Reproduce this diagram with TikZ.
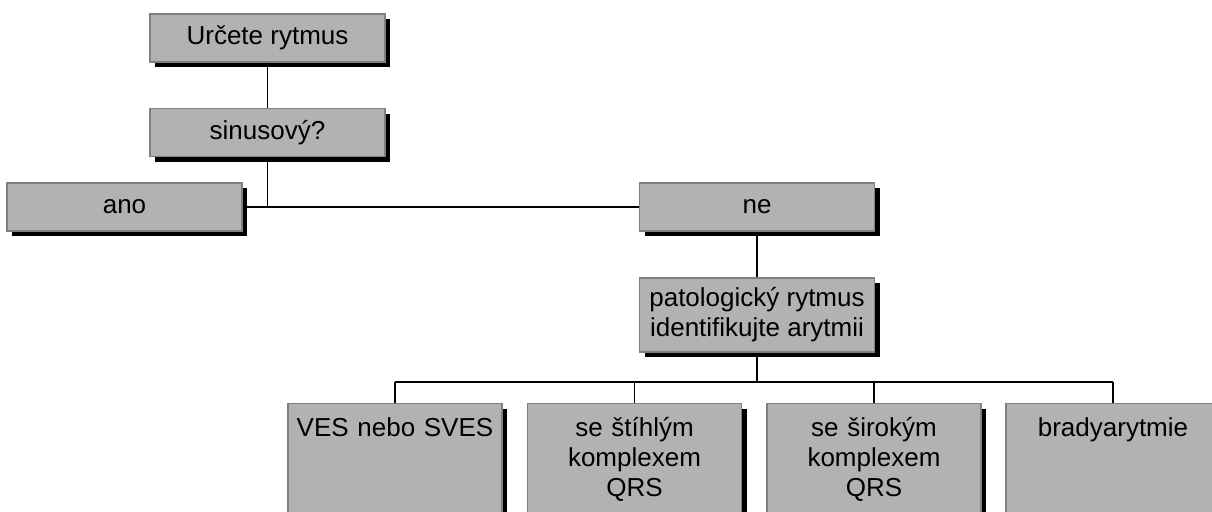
\documentclass[tikz,border=0pt]{standalone}
\usepackage{fontspec}
\setmainfont{Liberation Sans}
\usetikzlibrary{positioning, shadows}

\begin{document}
\begin{tikzpicture}[x=0.5pt, y=-0.5pt,
  box/.style={draw=black!50, line width=0.7pt, fill=black!30, inner sep=0pt,
    minimum width=117.5pt, minimum height=24pt, align=center,
    font=\fontsize{13}{15}\selectfont,
    drop shadow={shadow xshift=2.5pt, shadow yshift=-2.5pt, fill=black, opacity=1}},
  leaf/.style={box, anchor=north, minimum width=107pt, text width=101pt,
    inner xsep=3pt, inner ysep=4pt, text height=12.5pt, text depth=120pt},
  link/.style={line width=0.8pt}]
\useasboundingbox (0,0) rectangle (1212,511);
\clip (0,0) rectangle (1212,511);

% Top
\node[box] (start) at (267.5, 38) {Určete rytmus};
\node[box] (sinus) at (267.5, 132.5) {sinusový?};
\node[box] (ano) at (124.5, 207) {ano};
\node[box] (ne) at (757, 207) {ne};
\node[box, minimum height=37pt] (pat) at (757, 315) {patologický rytmus\\identifikujte arytmii};

% Bottom
\node[leaf] (ves) at (395, 403) {VES nebo SVES};
\node[leaf] (stihly) at (634.5, 403) {se štíhlým\\komplexem\\QRS};
\node[leaf] (siroky) at (874, 403) {se širokým\\komplexem\\QRS};
\node[leaf] (brady) at (1113, 403) {bradyarytmie};

% Lines
\coordinate (bus) at (0, 382);
\draw[link] (start) -- (sinus);
\draw[link] (ano) -- (ne);
\draw[link] (sinus.south) -- (sinus.south |- ano.east);
\draw[link] (ne) -- (pat);
\draw[link] (pat.south) -- (pat.south |- bus);
\draw[link] (ves.north |- bus) -- (brady.north |- bus);
\foreach \n in {ves, stihly, siroky, brady}
  \draw[link] (\n.north) -- (\n.north |- bus);
\end{tikzpicture}
\end{document}
